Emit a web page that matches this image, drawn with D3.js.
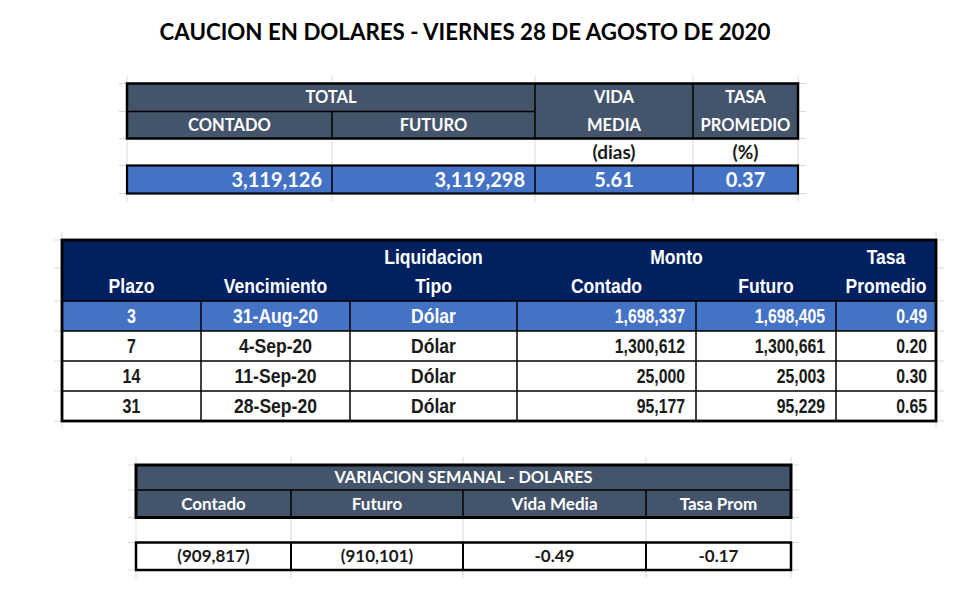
<!DOCTYPE html>
<html>
<head>
<meta charset="utf-8">
<script src="https://cdnjs.cloudflare.com/ajax/libs/d3/7.8.5/d3.min.js"></script>
<style>
  body { margin: 0; background: #fff; }
  svg { display: block; }
  .cal { font-family: Lato, "Open Sans", sans-serif; font-weight: 700; }
  .nar { font-family: "Liberation Sans", Arial, sans-serif; font-weight: 700; }
</style>
</head>
<body>
<div id="chart"></div>
<script>
"use strict";

var title = "CAUCION EN DOLARES - VIERNES 28 DE AGOSTO DE 2020";

// cuadro total
var totalGroup = "TOTAL";
var totalHeadTop = ["", "", "VIDA", "TASA"];
var totalHeadBottom = ["CONTADO", "FUTURO", "MEDIA", "PROMEDIO"];
var totalUnits = ["", "", "(dias)", "(%)"];
var totalValues = [3119126, 3119298, 5.61, 0.37];

// cuadro por plazo
var plazoHeadTop = ["", "", "Liquidacion", "Monto", "", "Tasa"];
var plazoHeadBottom = ["Plazo", "Vencimiento", "Tipo", "Contado", "Futuro", "Promedio"];
var plazo = [3, 7, 14, 31];
var vencimiento = ["31-Aug-20", "4-Sep-20", "11-Sep-20", "28-Sep-20"];
var tipo = ["Dólar", "Dólar", "Dólar", "Dólar"];
var montoContado = [1698337, 1300612, 25000, 95177];
var montoFuturo = [1698405, 1300661, 25003, 95229];
var tasaPromedio = [0.49, 0.20, 0.30, 0.65];

// variacion semanal
var variacionTitle = "VARIACION SEMANAL - DOLARES";
var variacionHeaders = ["Contado", "Futuro", "Vida Media", "Tasa Prom"];
var variacionValues = [-909817, -910101, -0.49, -0.17];

var width = 980, height = 594;
var slate = "#44546a", navy = "#002060", blue = "#4472c4", ink = "#1a1a1a", grid = "#d9d9d9";

var loc = d3.formatLocale({decimal: ".", thousands: ",", grouping: [3], currency: ["$", ""], minus: "-"});
var fInt = loc.format(",.0f");
var fDec = loc.format(".2f");
function fMoney(v) { return v < 0 ? "(" + fInt(-v) + ")" : fInt(v) }

var svg = d3.select("#chart").append("svg")
    .attr("width", width)
    .attr("height", height);

svg.append("rect").attr("width", width).attr("height", height).attr("fill", "#fff");

function rect(g, x0, x1, y0, y1, fill, stroke, sw) {
  g.append("rect")
    .attr("x", x0).attr("y", y0)
    .attr("width", x1 - x0).attr("height", y1 - y0)
    .attr("fill", fill || "none")
    .attr("stroke", stroke || "none")
    .attr("stroke-width", sw || 0)
}
function line(g, x0, y0, x1, y1, color, sw) {
  g.append("line")
    .attr("x1", x0).attr("y1", y0).attr("x2", x1).attr("y2", y1)
    .attr("stroke", color).attr("stroke-width", sw)
}
// sx < 1 squeezes the text horizontally (no narrow font installed)
function label(g, txt, x, y, anchor, cls, size, color, sx) {
  g.append("text")
    .attr("class", cls)
    .attr("transform", "translate(" + x + "," + y + ") scale(" + (sx || 1) + ",1)")
    .attr("dy", "0.36em")
    .attr("text-anchor", anchor)
    .attr("font-size", size)
    .attr("fill", color)
    .text(txt)
}
// light excel gridlines around each table
function gridlines(g, xs, ys, pad) {
  xs.forEach(function(x) { line(g, x, ys[0] - pad, x, ys[ys.length - 1] + pad, grid, 1) });
  ys.forEach(function(y) { line(g, xs[0] - pad, y, xs[xs.length - 1] + pad, y, grid, 1) });
}

// title
svg.append("text")
  .attr("class", "cal")
  .attr("x", 465).attr("y", 32)
  .attr("dy", "0.36em")
  .attr("text-anchor", "middle")
  .attr("font-size", 22.3)
  .attr("font-weight", 900)
  .attr("fill", "#000")
  .text(title);

// ---------- cuadro total ----------
var t1 = svg.append("g");
var x1 = d3.scaleOrdinal().domain(d3.range(5)).range([127, 332, 535, 693, 798]);
var y1 = d3.scaleOrdinal().domain(d3.range(5)).range([83.5, 111.5, 138.5, 165.5, 193.5]);
function mid1(i) { return (x1(i) + x1(i + 1)) / 2 }

gridlines(t1, d3.range(5).map(x1), d3.range(5).map(y1), 8);
rect(t1, x1(0), x1(4), y1(0), y1(2), slate);
line(t1, x1(0), y1(1), x1(2), y1(1), "#000", 1.5);
line(t1, x1(1), y1(1), x1(1), y1(2), "#000", 1.5);
line(t1, x1(2), y1(0), x1(2), y1(2), "#000", 1.5);
line(t1, x1(3), y1(0), x1(3), y1(2), "#000", 1.5);
rect(t1, x1(0), x1(4), y1(0), y1(2), null, "#000", 2.5);

label(t1, totalGroup, (x1(0) + x1(2)) / 2, (y1(0) + y1(1)) / 2, "middle", "cal", 16.5, "#fff");
totalHeadTop.forEach(function(d, i) {
  if (d) label(t1, d, mid1(i), (y1(0) + y1(1)) / 2, "middle", "cal", 16.5, "#fff")
});
totalHeadBottom.forEach(function(d, i) {
  label(t1, d, mid1(i), (y1(1) + y1(2)) / 2, "middle", "cal", 16.5, "#fff")
});
totalUnits.forEach(function(d, i) {
  if (d) label(t1, d, mid1(i), (y1(2) + y1(3)) / 2, "middle", "cal", 19, ink)
});

rect(t1, x1(0), x1(4), y1(3), y1(4), blue);
[1, 2, 3].forEach(function(i) { line(t1, x1(i), y1(3), x1(i), y1(4), "#000", 1.5) });
rect(t1, x1(0), x1(4), y1(3), y1(4), null, "#000", 2.2);
totalValues.forEach(function(v, i) {
  var yy = (y1(3) + y1(4)) / 2;
  if (i < 2) label(t1, fInt(v), x1(i + 1) - 10, yy, "end", "cal", 20, "#fff");
  else label(t1, fDec(v), mid1(i), yy, "middle", "cal", 20, "#fff");
});

// ---------- cuadro por plazo ----------
var t2 = svg.append("g");
var x2 = d3.scaleOrdinal().domain(d3.range(7)).range([62, 201, 350, 517, 696, 836, 936]);
var y2 = d3.scaleBand().domain(d3.range(plazo.length)).range([301, 421]);
var head2 = [240, 301];
function mid2(i) { return (x2(i) + x2(i + 1)) / 2 }

gridlines(t2, [x2(0), x2(6)], [head2[0], 268].concat(d3.range(plazo.length).map(y2), [421]), 8);
rect(t2, x2(0), x2(6), head2[0], head2[1], navy);

plazoHeadTop.forEach(function(d, i) {
  if (!d) return;
  var cx = d === "Monto" ? (x2(3) + x2(5)) / 2 : mid2(i);
  label(t2, d, cx, 257, "middle", "nar", 19.5, "#fff", 0.9);
});
plazoHeadBottom.forEach(function(d, i) {
  label(t2, d, mid2(i), 286, "middle", "nar", 19.5, "#fff", 0.9);
});

var rows = plazo.map(function(p, i) {
  return [String(p), vencimiento[i], tipo[i], fInt(montoContado[i]), fInt(montoFuturo[i]), fDec(tasaPromedio[i])];
});
rows.forEach(function(r, i) {
  var top = y2(i), bot = top + y2.bandwidth(), yy = (top + bot) / 2;
  var col = i === 0 ? "#fff" : ink;
  rect(t2, x2(0), x2(6), top, bot, i === 0 ? blue : "#fff");
  r.forEach(function(txt, j) {
    if (j === 0) label(t2, txt, mid2(j), yy, "middle", "nar", 19.5, col, 0.82);
    else if (j < 3) label(t2, txt, mid2(j), yy, "middle", "nar", 19.5, col, 0.9);
    else label(t2, txt, x2(j + 1) - (j === 5 ? 9 : 11), yy, "end", "nar", 19.5, col, 0.81);
  });
  line(t2, x2(0), top, x2(6), top, "#000", 1.5);
});
d3.range(1, 6).forEach(function(j) { line(t2, x2(j), head2[1], x2(j), 421, "#000", 1.5) });
rect(t2, x2(0), x2(6), head2[0], 421, null, "#000", 2.8);

// ---------- variacion semanal ----------
var t3 = svg.append("g");
var x3 = d3.scaleOrdinal().domain(d3.range(5)).range([136, 291, 463, 646, 791]);
var y3 = d3.scaleOrdinal().domain(d3.range(5)).range([465, 490, 517.5, 542.5, 570]);
function mid3(i) { return (x3(i) + x3(i + 1)) / 2 }

gridlines(t3, d3.range(5).map(x3), d3.range(5).map(y3), 8);
rect(t3, x3(0), x3(4), y3(0), y3(2), slate);
line(t3, x3(0), y3(1), x3(4), y3(1), "#000", 1.5);
[1, 2, 3].forEach(function(i) { line(t3, x3(i), y3(1), x3(i), y3(2), "#000", 1.5) });
rect(t3, x3(0), x3(4), y3(0), y3(2), null, "#000", 3);
label(t3, variacionTitle, (x3(0) + x3(4)) / 2, (y3(0) + y3(1)) / 2, "middle", "cal", 16.3, "#fff");
variacionHeaders.forEach(function(d, i) {
  label(t3, d, mid3(i), (y3(1) + y3(2)) / 2, "middle", "cal", 17, "#fff");
});

rect(t3, x3(0), x3(4), y3(3), y3(4), "#fff");
[1, 2, 3].forEach(function(i) { line(t3, x3(i), y3(3), x3(i), y3(4), "#000", 2) });
rect(t3, x3(0), x3(4), y3(3), y3(4), null, "#000", 2.5);
variacionValues.forEach(function(v, i) {
  var txt = i < 2 ? fMoney(v) : fDec(v);
  label(t3, txt, mid3(i), (y3(3) + y3(4)) / 2, "middle", "cal", 17, ink);
});
</script>
</body>
</html>
